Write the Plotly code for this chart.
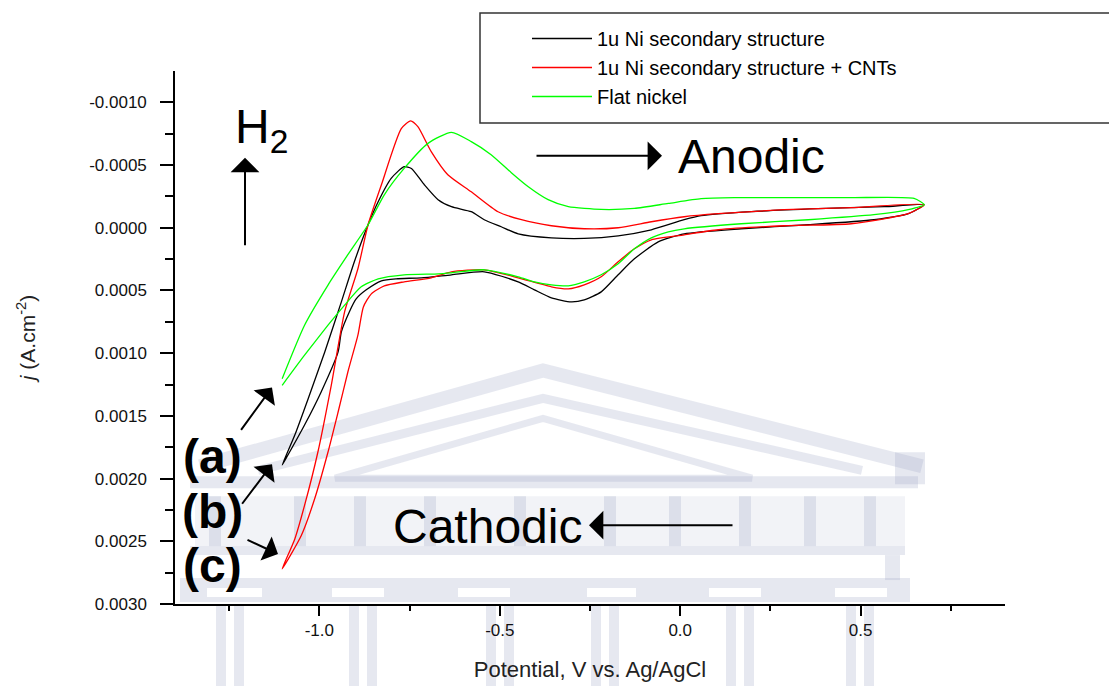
import plotly.graph_objects as go

# ---------------- data ----------------
# potential (V vs Ag/AgCl) and current density j (A cm^-2); y axis is reversed in the chart
black_fwd_x = [-1.103, -1.068, -1.031, -0.985, -0.939, -0.903, -0.865, -0.837, -0.801, -0.765,
               -0.745, -0.709, -0.671, -0.634, -0.579, -0.543, -0.496, -0.449, -0.357, -0.266,
               -0.172, -0.080, 0.011, 0.058, 0.197, 0.382, 0.565, 0.676]
black_fwd_y = [1.892e-3, 1.653e-3, 1.363e-3, 0.990e-3, 0.591e-3, 0.271e-3, -0.024e-3, -0.208e-3,
               -0.394e-3, -0.487e-3, -0.473e-3, -0.343e-3, -0.224e-3, -0.168e-3, -0.128e-3,
               -0.064e-3, -0.008e-3, 0.048e-3, 0.080e-3, 0.085e-3, 0.064e-3, 0.016e-3, -0.064e-3,
               -0.096e-3, -0.128e-3, -0.152e-3, -0.168e-3, -0.184e-3]
black_rev_x = [0.632, 0.537, 0.355, 0.169, 0.011, -0.061, -0.127, -0.172, -0.219, -0.266, -0.302,
               -0.357, -0.404, -0.449, -0.543, -0.634, -0.718, -0.787, -0.828, -0.870, -0.898,
               -0.917, -0.939, -0.948, -0.995, -1.041, -1.087, -1.103]
black_rev_y = [-0.112e-3, -0.064e-3, -0.024e-3, 0.008e-3, 0.048e-3, 0.112e-3, 0.248e-3, 0.375e-3,
               0.511e-3, 0.575e-3, 0.591e-3, 0.559e-3, 0.495e-3, 0.431e-3, 0.351e-3, 0.375e-3,
               0.399e-3, 0.407e-3, 0.423e-3, 0.495e-3, 0.567e-3, 0.671e-3, 0.830e-3, 0.990e-3,
               1.309e-3, 1.573e-3, 1.812e-3, 1.892e-3]

red_fwd_x = [-1.103, -1.068, -1.041, -1.004, -0.967, -0.930, -0.893, -0.865, -0.828, -0.773,
             -0.747, -0.727, -0.690, -0.644, -0.579, -0.505, -0.440, -0.357, -0.266, -0.172,
             -0.080, 0.011, 0.105, 0.288, 0.474, 0.676]
red_fwd_y = [2.720e-3, 2.481e-3, 2.214e-3, 1.788e-3, 1.256e-3, 0.671e-3, 0.325e-3, -0.024e-3,
             -0.343e-3, -0.790e-3, -0.852e-3, -0.806e-3, -0.607e-3, -0.423e-3, -0.287e-3,
             -0.128e-3, -0.064e-3, -0.016e-3, 0.008e-3, 0.000e-3, -0.048e-3, -0.088e-3,
             -0.112e-3, -0.144e-3, -0.160e-3, -0.184e-3]
red_rev_x = [0.632, 0.474, 0.288, 0.105, 0.011, -0.080, -0.127, -0.172, -0.219, -0.266, -0.310,
             -0.357, -0.449, -0.543, -0.634, -0.690, -0.765, -0.820, -0.856, -0.878, -0.893,
             -0.921, -0.948, -0.976, -1.013, -1.050, -1.103]
red_rev_y = [-0.112e-3, -0.032e-3, -0.016e-3, 0.016e-3, 0.056e-3, 0.096e-3, 0.168e-3, 0.271e-3,
             0.391e-3, 0.455e-3, 0.487e-3, 0.471e-3, 0.399e-3, 0.335e-3, 0.351e-3, 0.399e-3,
             0.431e-3, 0.463e-3, 0.527e-3, 0.631e-3, 0.854e-3, 1.150e-3, 1.469e-3, 1.788e-3,
             2.161e-3, 2.454e-3, 2.720e-3]

green_fwd_x = [-1.103, -1.041, -0.976, -0.921, -0.865, -0.820, -0.765, -0.699, -0.634, -0.579,
               -0.524, -0.468, -0.421, -0.366, -0.310, -0.219, -0.127, -0.033, 0.058, 0.150,
               0.288, 0.474, 0.648, 0.676]
green_fwd_y = [1.203e-3, 0.777e-3, 0.457e-3, 0.215e-3, -0.024e-3, -0.263e-3, -0.473e-3, -0.673e-3,
               -0.761e-3, -0.687e-3, -0.583e-3, -0.439e-3, -0.327e-3, -0.224e-3, -0.168e-3,
               -0.146e-3, -0.154e-3, -0.194e-3, -0.232e-3, -0.240e-3, -0.240e-3, -0.240e-3,
               -0.234e-3, -0.184e-3]
green_rev_x = [0.632, 0.537, 0.355, 0.169, 0.011, -0.033, -0.080, -0.127, -0.172, -0.219, -0.266,
               -0.310, -0.357, -0.404, -0.449, -0.543, -0.634, -0.670, -0.765, -0.837, -0.884,
               -0.930, -0.976, -1.041, -1.103]
green_rev_y = [-0.144e-3, -0.104e-3, -0.064e-3, -0.032e-3, 0.008e-3, 0.032e-3, 0.080e-3, 0.168e-3,
               0.287e-3, 0.375e-3, 0.431e-3, 0.463e-3, 0.455e-3, 0.431e-3, 0.391e-3, 0.335e-3,
               0.359e-3, 0.367e-3, 0.375e-3, 0.407e-3, 0.471e-3, 0.617e-3, 0.777e-3, 1.016e-3,
               1.256e-3]

series_names = ["1u Ni secondary structure", "1u Ni secondary structure + CNTs", "Flat nickel"]
series_colors = ["#000000", "#ff0000", "#00ff00"]

x_tick_vals = [-1.0, -0.5, 0.0, 0.5]
x_tick_text = ["-1.0", "-0.5", "0.0", "0.5"]
x_minor_vals = [-1.25, -0.75, -0.25, 0.25, 0.75]
y_tick_vals = [-0.0010, -0.0005, 0.0, 0.0005, 0.0010, 0.0015, 0.0020, 0.0025, 0.0030]
y_tick_text = ["-0.0010", "-0.0005", "0.0000", "0.0005", "0.0010", "0.0015", "0.0020",
               "0.0025", "0.0030"]
y_minor_vals = [-0.00075, -0.00025, 0.00025, 0.00075, 0.00125, 0.00175, 0.00225, 0.00275]

FONT = "Liberation Sans, Arial, Helvetica, sans-serif"

# ---------------- figure ----------------
fig = go.Figure()
loops = [
    (black_fwd_x + black_rev_x, black_fwd_y + black_rev_y),
    (red_fwd_x + red_rev_x, red_fwd_y + red_rev_y),
    (green_fwd_x + green_rev_x, green_fwd_y + green_rev_y),
]
for (xs, ys), name, col in zip(loops, series_names, series_colors):
    fig.add_trace(go.Scatter(x=xs, y=ys, mode="lines", name=name,
                             line=dict(color=col, width=1.3, shape="spline", smoothing=0.6)))

W, H = 1117, 686
# the page body adds an 8 px offset; the plot area is placed so it lands at
# x 175..1005, y 70..604 of the screenshot
PL, PR, PT, PB = 175, 1005, 70, 604
OFF = 8
L, T = PL - OFF, PT - OFF
R, B = W - (PR - OFF), H - (PB - OFF)


def P(px, py):
    """screenshot pixel -> paper coordinates"""
    return (px - PL) / (PR - PL), (PB - py) / (PB - PT)


# ---------------- faint watermark (building) ----------------
wm = "rgba(165,172,200,0.28)"
wm2 = "rgba(165,172,200,0.14)"
shapes = []


def poly(points, width, color=wm, closed=False):
    s = ""
    for i, (px, py) in enumerate(points):
        x, y = P(px, py)
        s += ("M" if i == 0 else "L") + f"{x:.4f},{y:.4f} "
    if closed:
        s += "Z"
    shapes.append(dict(type="path", xref="paper", yref="paper", path=s, layer="below",
                       line=dict(color=color, width=width)))


def rect(px0, py0, px1, py1, color=wm):
    x0, y0 = P(px0, py0)
    x1, y1 = P(px1, py1)
    shapes.append(dict(type="rect", xref="paper", yref="paper", x0=x0, y0=y1, x1=x1, y1=y0,
                       layer="below", line=dict(width=0), fillcolor=color))


poly([(200, 466), (543, 370), (922, 466)], 14)
poly([(258, 470), (543, 398), (862, 470)], 9)
poly([(335, 478), (543, 418), (752, 478)], 7, closed=True)
rect(895, 452, 925, 484)
rect(190, 476, 918, 488)
rect(195, 496, 905, 546, wm2)
for cx in [215, 300, 360, 430, 520, 610, 675, 745, 810, 870]:
    rect(cx - 6, 496, cx + 6, 546)
rect(190, 546, 905, 555)
rect(885, 555, 900, 580)
rect(180, 578, 910, 602)
for x0, x1 in [(207, 262), (332, 384), (458, 510), (587, 636), (709, 761), (835, 887)]:
    rect(x0, 588, x1, 597, "white")
for cx in [230, 363, 500, 605, 740, 860]:
    rect(cx - 14, 606, cx - 4, 700)
    rect(cx + 4, 606, cx + 14, 700)

# legend frame
lx0, ly0 = P(480, 122)
lx1, ly1 = P(1140, 12)
shapes.append(dict(type="rect", xref="paper", yref="paper", x0=lx0, y0=ly0, x1=lx1, y1=ly1,
                   line=dict(color="#333333", width=1.5), fillcolor="rgba(0,0,0,0)"))

# ---------------- annotations ----------------
ann = []


def text(px, py, s, size, bold=False, xanchor="left"):
    x, y = P(px, py)
    ann.append(dict(x=x, y=y, xref="paper", yref="paper", text=s, showarrow=False,
                    xanchor=xanchor, yanchor="middle",
                    font=dict(family=FONT, size=size, color="black",
                              weight="bold" if bold else "normal")))


def arrow(tip, tail, width=2, size=2.4):
    x, y = P(*tip)
    ann.append(dict(x=x, y=y, xref="paper", yref="paper", text="", showarrow=True,
                    ax=tail[0] - tip[0], ay=tail[1] - tip[1], axref="pixel", ayref="pixel",
                    arrowhead=1, arrowwidth=width, arrowsize=size, arrowcolor="black",
                    standoff=0))


text(233, 129, "H<sub>2</sub>", 48)
arrow((245, 157), (245, 246))
text(676, 156, "Anodic", 48)
arrow((662, 155), (535, 155))
text(391, 526, "Cathodic", 48)
arrow((589, 525), (734, 525))
text(212, 456, "(a)", 48, bold=True, xanchor="center")
text(212, 511, "(b)", 48, bold=True, xanchor="center")
text(212, 565, "(c)", 48, bold=True, xanchor="center")
arrow((272, 387), (240, 431), width=2, size=2.2)
arrow((272, 464), (241, 505), width=2, size=2.2)
arrow((278, 554), (246, 539), width=2, size=2.2)

legx, legy = P(527, 19)

fig.update_layout(
    width=W, height=H,
    margin=dict(l=L, r=R, t=T, b=B, pad=0),
    paper_bgcolor="white", plot_bgcolor="rgba(0,0,0,0)",
    font=dict(family=FONT, color="black"),
    showlegend=True,
    legend=dict(x=legx, y=legy, xanchor="left", yanchor="top", bgcolor="rgba(0,0,0,0)",
                borderwidth=0, font=dict(family=FONT, size=20, color="black"),
                itemwidth=60, tracegroupgap=0),
    shapes=shapes,
    annotations=ann,
    xaxis=dict(range=[-1.4, 0.9], showgrid=False, zeroline=False, showline=True,
               linecolor="black", linewidth=1.5, ticks="outside", ticklen=10, tickwidth=1.5,
               tickcolor="black", tickmode="array", tickvals=x_tick_vals, ticktext=x_tick_text,
               tickfont=dict(family=FONT, size=17, color="#111"),
               minor=dict(tickmode="array", tickvals=x_minor_vals, ticks="outside", ticklen=5,
                          tickwidth=1.5, tickcolor="black", showgrid=False),
               title=dict(text="Potential, V vs. Ag/AgCl", standoff=22,
                          font=dict(family=FONT, size=22, color="#222"))),
    yaxis=dict(range=[0.0030, -0.00125], showgrid=False, zeroline=False, showline=True,
               linecolor="black", linewidth=1.5, ticks="outside", ticklen=13, tickwidth=1.5,
               tickcolor="black", tickmode="array", tickvals=y_tick_vals, ticktext=y_tick_text,
               tickfont=dict(family=FONT, size=17, color="#111"), ticklabelstandoff=10,
               minor=dict(tickmode="array", tickvals=y_minor_vals, ticks="outside", ticklen=8,
                          tickwidth=1.5, tickcolor="black", showgrid=False),
               title=dict(text="<i>j</i> (A.cm<sup>-2</sup>)", standoff=48,
                          font=dict(family=FONT, size=21, color="#222"))),
)

fig.write_html("out.html")
